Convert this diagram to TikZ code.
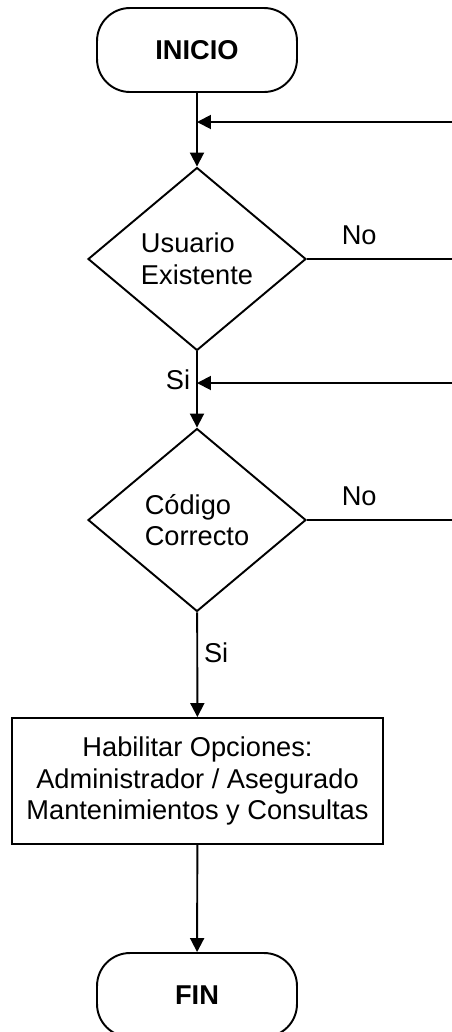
\documentclass[tikz,border=0pt]{standalone}
\usepackage{fontspec}
\setmainfont{Liberation Sans}
\usetikzlibrary{shapes.geometric}
\usetikzlibrary{arrows.meta}
\usetikzlibrary{positioning}

\begin{document}
\begin{tikzpicture}[x=0.02cm,y=-0.02cm,line width=1.1pt,
  every node/.style={font=\fontsize{15.5}{18.1}\selectfont},
  terminal/.style={draw,rounded corners=0.66cm,minimum width=4cm,minimum height=1.68cm,font=\fontsize{15.5}{18.1}\selectfont\bfseries},
  decision/.style={draw,diamond,aspect=1.19,minimum width=4.36cm,minimum height=3.66cm,inner sep=0pt,align=left},
  process/.style={draw,rectangle,minimum width=7.42cm,minimum height=2.52cm,align=center},
  flow/.style={-{Triangle[length=0.28cm,width=0.28cm]}}]
  \useasboundingbox (0,0) rectangle (452,1032);

  \node[terminal] (inicio) at (197,50) {INICIO};
  \node[decision] (usuario) at (197,259) {Usuario\\Existente};
  \node[decision] (codigo) at (197,520) {Código\\Correcto};
  \node[process] (habilitar) at (197.5,781) {Habilitar Opciones:\\Administrador / Asegurado\\Mantenimientos y Consultas};
  \node[terminal] (fin) at (197,995) {FIN};

  \coordinate (r1) at (452,122);
  \coordinate (j1) at (197,122);
  \coordinate (r2) at (452,259);
  \coordinate (r3) at (452,383);
  \coordinate (j2) at (197,383);
  \coordinate (r4) at (452,520);

  \draw[flow](inicio)--(usuario);
  \draw[flow](usuario)--node[left,pos=0.37](si1){Si}(codigo);
  \draw[flow](codigo)--node[right,pos=0.39](si2){Si}(habilitar);
  \draw[flow](habilitar)--(fin);
  \draw(usuario.east)--node[above,pos=0.36,yshift=4pt](no1){No}(r2);
  \draw(codigo.east)--node[above,pos=0.36,yshift=4pt](no2){No}(r4);
  \draw[flow](r1)--(j1);
  \draw[flow](r3)--(j2);
\end{tikzpicture}
\end{document}
